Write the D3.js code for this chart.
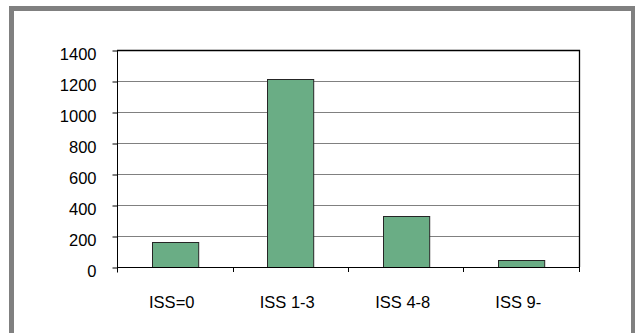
<!DOCTYPE html>
<html>
<head>
<meta charset="utf-8">
<script src="https://cdn.jsdelivr.net/npm/d3@7"></script>
<style>
  html, body { margin: 0; padding: 0; background: #fff; }
  svg { display: block; font-family: "Liberation Sans", Arial, sans-serif; }
</style>
</head>
<body>
<svg id="chart" width="635" height="333"></svg>
<script>
// Injury severity groups and their counts
const categories = ["ISS=0", "ISS 1-3", "ISS 4-8", "ISS 9-"];
const counts = [160, 1215, 330, 43];
const yTicks = [0, 200, 400, 600, 800, 1000, 1200, 1400];

const W = 635, H = 333;
const plot = { left: 117, right: 579, top: 50, bottom: 267 };

const svg = d3.select("#chart");

// Outer gray frame
svg.append("rect")
  .attr("x", 11.5).attr("y", 8.5)
  .attr("width", 622).attr("height", 330)
  .attr("fill", "#fff")
  .attr("stroke", "#808080")
  .attr("stroke-width", 5);

const x = d3.scaleBand()
  .domain(categories)
  .range([plot.left, plot.right])
  .paddingInner(0.6)
  .paddingOuter(0.3);

const y = d3.scaleLinear()
  .domain([0, 1400])
  .range([plot.bottom, plot.top]);

// Horizontal gridlines
svg.append("g")
  .selectAll("line")
  .data(yTicks.filter(t => t > 0 && t < 1400))
  .join("line")
  .attr("x1", plot.left).attr("x2", plot.right)
  .attr("y1", d => Math.round(y(d)) + 0.5)
  .attr("y2", d => Math.round(y(d)) + 0.5)
  .attr("stroke", "#808080")
  .attr("stroke-width", 1);

// Plot area border (top and right)
svg.append("path")
  .attr("d", `M${plot.left},${plot.top + 0.5}H${plot.right + 0.5}V${plot.bottom}`)
  .attr("fill", "none")
  .attr("stroke", "#000")
  .attr("stroke-width", 1.3);

// Bars
svg.append("g")
  .selectAll("rect")
  .data(categories.map((c, i) => ({ c, v: counts[i] })))
  .join("rect")
  .attr("x", d => Math.round(x(d.c)) + 0.5)
  .attr("y", d => Math.round(y(d.v)) + 0.5)
  .attr("width", x.bandwidth())
  .attr("height", d => Math.round(y(0)) - Math.round(y(d.v)))
  .attr("fill", "#6aad85")
  .attr("stroke", "#262626")
  .attr("stroke-width", 1);

// Y axis
const yAxis = d3.axisLeft(y)
  .tickValues(yTicks)
  .tickFormat(d3.format("d"))
  .tickSize(5)
  .tickPadding(16);

const gy = svg.append("g")
  .attr("transform", `translate(${plot.left + 0.5},0.5)`)
  .call(yAxis);
gy.select(".domain").attr("d", `M0,${plot.top}V${plot.bottom + 5}`).attr("stroke", "#000");
gy.selectAll(".tick line").attr("stroke", "#000");
gy.selectAll(".tick text")
  .attr("font-size", "16.5px")
  .attr("fill", "#000")
  .attr("dy", "0.55em");

// X axis baseline, boundary ticks and category labels
const step = x.step();
const boundaries = categories.map(c => x(c) + x.bandwidth() + (step - x.bandwidth()) / 2);

const gx = svg.append("g");
gx.append("line")
  .attr("x1", plot.left).attr("x2", plot.right + 1)
  .attr("y1", plot.bottom + 0.5).attr("y2", plot.bottom + 0.5)
  .attr("stroke", "#000");
gx.selectAll("line.tick")
  .data(boundaries)
  .join("line")
  .attr("class", "tick")
  .attr("x1", d => Math.round(d) + 0.5).attr("x2", d => Math.round(d) + 0.5)
  .attr("y1", plot.bottom).attr("y2", plot.bottom + 5)
  .attr("stroke", "#000");
gx.selectAll("text")
  .data(categories)
  .join("text")
  .attr("x", d => x(d) + x.bandwidth() / 2 - 3)
  .attr("y", 307.5)
  .attr("text-anchor", "middle")
  .attr("font-size", "16.5px")
  .attr("fill", "#000")
  .text(d => d);
</script>
</body>
</html>
